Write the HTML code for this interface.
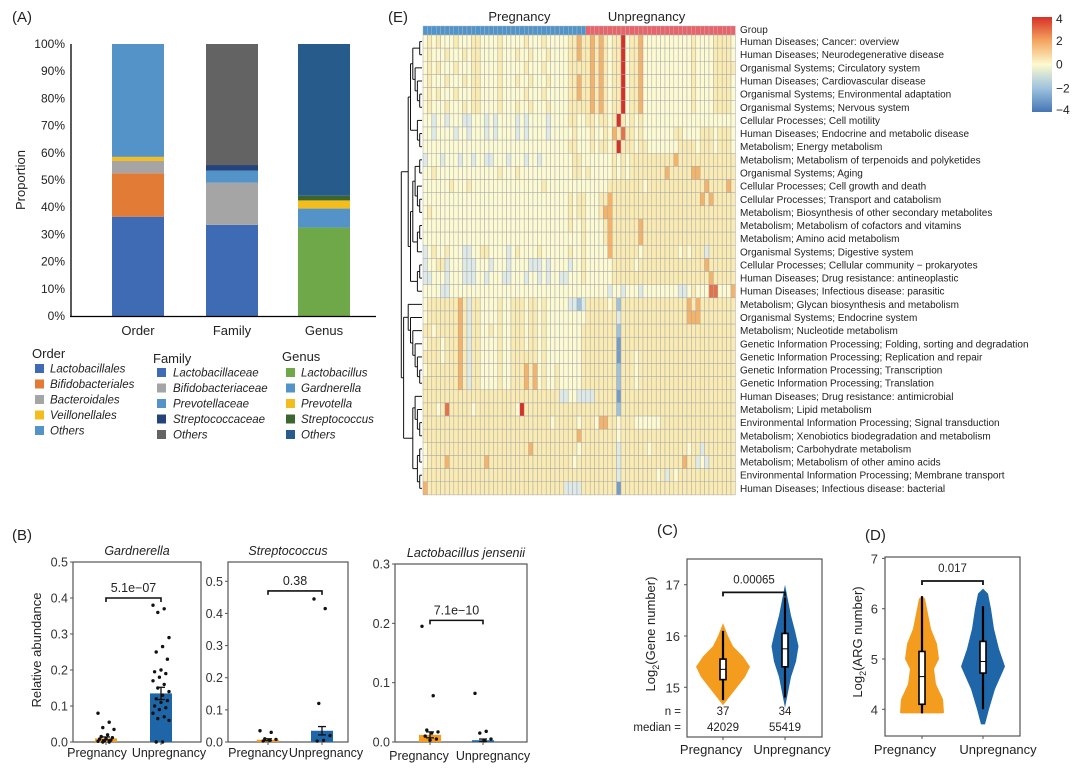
<!DOCTYPE html>
<html><head><meta charset="utf-8"><style>
html,body{margin:0;padding:0;background:#fff;}
svg{display:block;font-family:"Liberation Sans",Arial,sans-serif;}
</style></head><body>
<svg id="fig" width="1080" height="776" viewBox="0 0 1080 776" xmlns="http://www.w3.org/2000/svg">
<g id="pA"></g>
<g id="pE"></g>
<g id="pB"></g>
<g id="pCD"></g>
</svg>
<script>
// ---------- Panel A data ----------
const aCategories = ["Order","Family","Genus"];
const aOrderNames = ["Lactobacillales","Bifidobacteriales","Bacteroidales","Veillonellales","Others"];
const aOrderValues = [36.5,16,4.5,1.5,41.5];
const aFamilyNames = ["Lactobacillaceae","Bifidobacteriaceae","Prevotellaceae","Streptococcaceae","Others"];
const aFamilyValues = [33.5,15.5,4.5,2,44.5];
const aGenusNames = ["Lactobacillus","Gardnerella","Prevotella","Streptococcus","Others"];
const aGenusValues = [32.5,7,3,1.7,55.8];
const aTicks = [0,10,20,30,40,50,60,70,80,90,100];
const aOrderColors = ["#3e6bb4","#e27b35","#a5a5a5","#f3bd1e","#5493c7"];
const aFamilyColors = ["#3e6bb4","#a5a5a5","#5493c7","#24437a","#636363"];
const aGenusColors = ["#6fa848","#5493c7","#f3bd1e","#3c6630","#275b8c"];

// ---------- Panel E data ----------
const eRowLabels = ["Human Diseases; Cancer: overview","Human Diseases; Neurodegenerative disease","Organismal Systems; Circulatory system","Human Diseases; Cardiovascular disease","Organismal Systems; Environmental adaptation","Organismal Systems; Nervous system","Cellular Processes; Cell motility","Human Diseases; Endocrine and metabolic disease","Metabolism; Energy metabolism","Metabolism; Metabolism of terpenoids and polyketides","Organismal Systems; Aging","Cellular Processes; Cell growth and death","Cellular Processes; Transport and catabolism","Metabolism; Biosynthesis of other secondary metabolites","Metabolism; Metabolism of cofactors and vitamins","Metabolism; Amino acid metabolism","Organismal Systems; Digestive system","Cellular Processes; Cellular community \u2212 prokaryotes","Human Diseases; Drug resistance: antineoplastic","Human Diseases; Infectious disease: parasitic","Metabolism; Glycan biosynthesis and metabolism","Organismal Systems; Endocrine system","Metabolism; Nucleotide metabolism","Genetic Information Processing; Folding, sorting and degradation","Genetic Information Processing; Replication and repair","Genetic Information Processing; Transcription","Genetic Information Processing; Translation","Human Diseases; Drug resistance: antimicrobial","Metabolism; Lipid metabolism","Environmental Information Processing; Signal transduction","Metabolism; Xenobiotics biodegradation and metabolism","Metabolism; Carbohydrate metabolism","Metabolism; Metabolism of other amino acids","Environmental Information Processing; Membrane transport","Human Diseases; Infectious disease: bacterial"];
const eGroupSizes = [37,34];
const eGroupNames = ["Pregnancy","Unpregnancy"];
// digit d encodes value d-4 (range -4..4); '|' separates Pregnancy | Unpregnancy
const eMatrix = [
"4545444544455444454444454445444445565|5656545584556444444444445444455554",
"4544454445455444454445445444544445565|5656545584556444444444445444455554",
"4545444544455444454444454445444445555|5656545584556444444444445444455555",
"4544454445455444454445445444544445565|5656545584556444444444445444455554",
"4545444544455444454444454445444445565|5656545584556444444444445444455554",
"4544454445455444454445445444544445555|5656545584556444444444445444455554",
"4434434443344434344443434444344445544|5545545854545444444444444444444444",
"4434444344344434344443434444344444544|4544546575545444444455444455545554",
"4444444444444444444444444444444445544|4545545855545544444445555455545554",
"3444344434434433444344434434444444554|4444445454555555555565555555555555",
"4454444444444444454445444444444444554|5444445454555555556555556655555555",
"4444445444544444444444444445444444444|4444455555555455555555555556555565",
"4444444444444444444444444444444445455|4445565555555555555555555565655555",
"4544444444444444444444444444444445455|4445665555555555555555555555555555",
"4444444444444444444444444444444445445|4444565555556555555555555555555555",
"4444444444444444444444444444444444445|4444565555556555555555555555555555",
"3454454443344554444345444454444445445|4444465555554555555554545553555555",
"3445534443334443444344443334344443445|4444445555545555555555555556555555",
"3344434443334434443344434434344334445|4444445555555555555555555555655555",
"4444334444444444444444444444444444444|4444434434443444444443345444774446",
"4555555565355444454455545545444443323|5555545255555555555555565655555555",
"4555555565355444454455545545444444444|5555555355555555555555566655555555",
"5545555565355445454455545545444444445|5555555255555555555555555555555555",
"4555455565355444454455545545444444445|5555555155555555555555555555555555",
"5555455565355444454455555545444444445|5555555155545555555555555555555555",
"4555555565355444454455565645445444445|5555555255545555555555555555555555",
"5555555565355444454455565645445444445|5555555255545555555555555555555555",
"5555555555555555555555555555555334433|3355555155555555555555555555555555",
"5554575555545555555554855555555555555|5555555255555555555555555555555555",
"5555555555555555555555555555545555545|5546655455544444455555555555555555",
"5555555555555555555555555555555555565|5555555455555555555555555555555555",
"4555555555555555555555556555555555545|5555555355555545555555545535555555",
"4555565555555565555555555555555555455|5555555355555555555555655343555555",
"5555555555555555555555555555555555555|5555555355555555453545555555555555",
"6555555555555555555555555555555533335|5555555155555555555555555555555555"
];
const eScaleTicks = [4,2,0,-2,-4];

// ---------- Panel B data ----------
const bTitles = ["Gardnerella","Streptococcus","Lactobacillus jensenii"];
const bGroups = ["Pregnancy","Unpregnancy"];
const bMeans = [[0.010,0.135],[0.007,0.035],[0.012,0.003]];
const bErrors = [[0.004,0.017],[0.003,0.013],[0.005,0.002]];
const bPvalues = ["5.1e\u221207","0.38","7.1e\u221210"];
const bBracketY = [0.40,0.47,0.205];
const bYMax = [0.5,0.56,0.3];
const bTicks = [[0,0.1,0.2,0.3,0.4,0.5],[0,0.1,0.2,0.3,0.4,0.5],[0,0.1,0.2,0.3]];
const bGardPreg = [0.08,0.055,0.04,0.035,0.02,0.015,0.012,0.01,0.008,0.005,0.003,0.002,0,0];
const bGardUnpreg = [0.38,0.37,0.36,0.29,0.265,0.25,0.23,0.2,0.195,0.19,0.18,0.17,0.16,0.15,0.14,0.13,0.12,0.115,0.11,0.1,0.095,0.09,0.08,0.07,0.065,0.06,0,0];
const bStrepPreg = [0.035,0.03,0.01,0.008,0.005,0.003];
const bStrepUnpreg = [0.445,0.415,0.12,0.02,0.005,0.003];
const bLjPreg = [0.195,0.078,0.02,0.017,0.015,0.01,0.005,0.003];
const bLjUnpreg = [0.082,0.018,0.015,0.005,0.002];

// ---------- Panel C/D data ----------
const cYs = [14.65,14.8,15.0,15.2,15.4,15.6,15.8,16.0,16.25];
const cPregWidth = [0,6,14,22,27,20,10,5,0];
const cUnYs = [14.6,14.9,15.2,15.5,15.8,16.1,16.4,16.7,17.0];
const cUnWidth = [0,3,6,11,13.5,10,6,3,0];
const cPregBox = [14.75,15.15,15.35,15.55,16.1];
const cUnBox = [14.8,15.4,15.75,16.05,16.75];
const cTicks = [15,16,17];
const cN = ["37","34"];
const cMedian = ["42029","55419"];
const cP = "0.00065";
const dPregYs = [3.92,3.93,4.2,4.5,4.8,5.0,5.3,5.6,6.0,6.2,6.25];
const dPregWidth = [20,22,21,14,12,17,15,9,5,3,0];
const dUnYs = [3.7,4.0,4.4,4.85,5.2,5.6,6.0,6.3,6.4];
const dUnWidth = [2,6,12,22,16,11,8,5,0];
const dPregBox = [3.92,4.1,4.65,5.15,6.25];
const dUnBox = [4.0,4.72,4.95,5.35,6.05];
const dTicks = [4,5,6,7];
const dP = "0.017";

const NS="http://www.w3.org/2000/svg";
function mk(parent,tag,attrs,text){const e=document.createElementNS(NS,tag);for(const k in attrs)e.setAttribute(k,attrs[k]);if(text!==undefined)e.textContent=text;parent.appendChild(e);return e;}

// ===== Panel A =====
(function(){
const g=document.getElementById('pA');
const y0=316,y1=44;const ay=v=>y0-(v/100)*(y0-y1);
const t=mk(g,'text',{x:12,y:22,'font-size':15,fill:'#222'},'(A)');

const yl=mk(g,'text',{x:0,y:0,'font-size':13,fill:'#222','text-anchor':'middle',transform:'translate(25,180) rotate(-90)'},'Proportion');

aTicks.forEach(v=>{const e=mk(g,'text',{x:65,y:ay(v)+4,'font-size':12,fill:'#222','text-anchor':'end'},v+'%');
});
const series=[[aOrderValues,aOrderColors,aOrderNames],[aFamilyValues,aFamilyColors,aFamilyNames],[aGenusValues,aGenusColors,aGenusNames]];
const centers=[138,232,324];
series.forEach((s,ci)=>{let acc=0;s[0].forEach((v,i)=>{const r=mk(g,'rect',{x:centers[ci]-26,y:ay(acc+v),width:52,height:ay(acc)-ay(acc+v),fill:s[1][i]});
acc+=v;});
const xl=mk(g,'text',{x:centers[ci],y:335,'font-size':13,fill:'#222','text-anchor':'middle'},aCategories[ci]);
});
mk(g,'line',{x1:71,y1:44,x2:71,y2:317,stroke:'#000','stroke-width':1.3});
mk(g,'line',{x1:70,y1:316.5,x2:376,y2:316.5,stroke:'#000','stroke-width':1.3});
const legs=[[32,353,368,35,50,aOrderNames,aOrderColors,'Order'],[153,358,372,157,173,aFamilyNames,aFamilyColors,'Family'],[282,356,372,286,301,aGenusNames,aGenusColors,'Genus']];
legs.forEach(L=>{const tt=mk(g,'text',{x:L[0],y:L[1]+5,'font-size':13,fill:'#222'},L[7]);

L[5].forEach((n,i)=>{const yy=L[2]+i*15.5;const sw=mk(g,'rect',{x:L[3],y:yy-4,width:9,height:9,fill:L[6][i]});

const lt=mk(g,'text',{x:L[4],y:yy+4.5,'font-size':11.5,'font-style':'italic',fill:'#222'},n);
});});
})();

// ===== Panel E =====
(function(){
const g=document.getElementById('pE');
const x0=423,cw=4.4,y0=35,rh=13.14;const N=eGroupSizes[0]+eGroupSizes[1];
const lab=mk(g,'text',{x:388,y:22,'font-size':15,fill:'#222'},'(E)');

const stops=[[-4,[69,117,180]],[-2,[158,194,222]],[-1,[222,234,232]],[0,[252,250,210]],[1,[250,235,178]],[2,[245,178,105]],[4,[214,48,39]]];
function col(v){for(let i=0;i<stops.length-1;i++){const a=stops[i],b=stops[i+1];if(v<=b[0]){const t=(v-a[0])/(b[0]-a[0]);return 'rgb('+a[1].map((c,k)=>Math.round(c+(b[1][k]-c)*t)).join(',')+')';}}return 'rgb(214,48,39)';}
for(let j=0;j<N;j++){const r=mk(g,'rect',{x:x0+j*cw,y:26,width:cw,height:9,fill:j<eGroupSizes[0]?'#4f95cc':'#e8636a',stroke:'#bbb','stroke-width':0.4});
}
eGroupNames.forEach((n,i)=>{const cx=i==0?x0+eGroupSizes[0]*cw/2+15:x0+eGroupSizes[0]*cw+eGroupSizes[1]*cw/2-14;
const t=mk(g,'text',{x:cx,y:21,'font-size':13,fill:'#222','text-anchor':'middle'},n);
});
const gl=mk(g,'text',{x:740,y:33,'font-size':10,fill:'#222'},'Group');

eMatrix.forEach((row,i)=>{const parts=row.split('|');const p=(parts[0]+'4'.repeat(40)).slice(0,eGroupSizes[0]);const u=(parts[1]+'5'.repeat(40)).slice(0,eGroupSizes[1]);const s=p+u;
for(let j=0;j<N;j++){const v=parseInt(s[j])-4;const r=mk(g,'rect',{x:x0+j*cw,y:y0+i*rh,width:cw,height:rh,fill:col(v),stroke:'#a8a8a8','stroke-width':0.5});
}
const t=mk(g,'text',{x:740,y:y0+i*rh+rh/2+3.5,'font-size':10,fill:'#222'},eRowLabels[i]);
});
const tree=[[[[[0,1],[2,[3,[4,5]]]],[6,[7,8]]],[[[[9,10],[11,[12,13]]],[[14,15],16]],[[17,18],19]]],[[[20,[21,[22,[23,[24,[25,26]]]]]]],[[27,[28,[29,30]]],[[31,32],[33,34]]]]];
const dg=mk(g,'g',{stroke:'#111','stroke-width':1,fill:'none'});

function depth(n){return Array.isArray(n)?1+Math.max(...n.map(depth)):0;}
function draw(n){if(!Array.isArray(n))return{y:y0+n*rh+rh/2,x:422};
const ch=n.map(draw);const d=depth(n);const x=422-d*2.3;
ch.forEach(c=>mk(dg,'line',{x1:x,y1:c.y,x2:c.x,y2:c.y}));
mk(dg,'line',{x1:x,y1:ch[0].y,x2:x,y2:ch[ch.length-1].y});
return{y:(ch[0].y+ch[ch.length-1].y)/2,x:x};}
draw(tree);
const cb=mk(g,'defs',{});const lg=mk(cb,'linearGradient',{id:'cbg',x1:0,y1:0,x2:0,y2:1});
[[0,'rgb(214,48,39)'],[0.25,'rgb(244,165,96)'],[0.5,'rgb(252,250,206)'],[0.75,'rgb(158,194,222)'],[1,'rgb(69,117,180)']].forEach(s=>mk(lg,'stop',{offset:s[0],'stop-color':s[1]}));
const bar=mk(g,'rect',{x:1032,y:17,width:20,height:95,fill:'url(#cbg)'});

eScaleTicks.forEach(v=>{const yy=17+(4-v)/8*95;const t=mk(g,'text',{x:1056,y:yy+4+(v==4?2:0)-(v==-4?2:0),'font-size':12,fill:'#222'},v<0?'\u2212'+(-v):String(v));
});
})();

// ===== Panel B =====
(function(){
const g=document.getElementById('pB');
const lab=mk(g,'text',{x:12,y:540,'font-size':15,fill:'#222'},'(B)');

const yl=mk(g,'text',{x:0,y:0,'font-size':13,fill:'#222','text-anchor':'middle',transform:'translate(41,650) rotate(-90)'},'Relative abundance');

const panels=[{l:73,r:201,t:562,b:742,ax:562,cx:[106,161],lx:[97,169],ly:757},{l:228,r:348,t:562,b:742,ax:562,cx:[268,322],lx:[258,326],ly:757},{l:395,r:527,t:564,b:742,ax:564,cx:[430,483],lx:[419,493],ly:760}];
const ptsAll=[[bGardPreg,bGardUnpreg],[bStrepPreg,bStrepUnpreg],[bLjPreg,bLjUnpreg]];
const cols=['#f39c1e','#1f66a8'];
panels.forEach((P,k)=>{const sy=v=>P.b-(v/bYMax[k])*(P.b-P.ax);
const fr=mk(g,'rect',{x:P.l,y:P.t,width:P.r-P.l,height:P.b-P.t,fill:'none',stroke:'#555','stroke-width':1.2});

const tt=mk(g,'text',{x:(P.l+P.r)/2+(k==2?5:0),y:P.t-7,'font-size':12.5,'font-style':'italic',fill:'#222','text-anchor':'middle'},bTitles[k]);

bTicks[k].forEach(v=>{const yy=sy(v);mk(g,'line',{x1:P.l-3,y1:yy,x2:P.l,y2:yy,stroke:'#555'});
const t=mk(g,'text',{x:P.l-5,y:yy+4.5,'font-size':12.5,fill:'#333','text-anchor':'end'},v.toFixed(1));
});
bGroups.forEach((gn,i)=>{const cx=P.cx[i];
const br=mk(g,'rect',{x:cx-11,y:sy(bMeans[k][i]),width:22,height:P.b-sy(bMeans[k][i]),fill:cols[i]});

const e1=sy(bMeans[k][i]+bErrors[k][i]),e0=sy(Math.max(0,bMeans[k][i]-bErrors[k][i]));
mk(g,'line',{x1:cx,y1:e1,x2:cx,y2:e0,stroke:'#111','stroke-width':1.3});
mk(g,'line',{x1:cx-4,y1:e1,x2:cx+4,y2:e1,stroke:'#111','stroke-width':1.3});
mk(g,'line',{x1:cx-4,y1:e0,x2:cx+4,y2:e0,stroke:'#111','stroke-width':1.3});
ptsAll[k][i].forEach((v,j)=>{const jx=((j*7)%11-5)*1.6;const c=mk(g,'circle',{cx:cx+jx,cy:sy(v),r:1.7,fill:'#111'});
});
mk(g,'line',{x1:cx,y1:P.b,x2:cx,y2:P.b+3,stroke:'#555'});
const xl=mk(g,'text',{x:P.lx[i],y:P.ly,'font-size':12.5,fill:'#222','text-anchor':'middle'},gn);
});
const by=sy(bBracketY[k]);
const bk=mk(g,'path',{d:`M${P.cx[0]},${by+4}V${by}H${P.cx[1]}V${by+4}`,stroke:'#111','stroke-width':1.6,fill:'none'});

const pv=mk(g,'text',{x:(P.cx[0]+P.cx[1])/2,y:by-6,'font-size':12.5,fill:'#222','text-anchor':'middle'},bPvalues[k]);
});
})();

// ===== Panels C & D =====
(function(){
const g=document.getElementById('pCD');
const cols=['#f39c1e','#1f66a8'];
function violin(sy,cx,ys,ws,color,name){let d='';ys.forEach((y,i)=>{d+=(i?'L':'M')+(cx-ws[i])+','+sy(y);});
for(let i=ys.length-1;i>=0;i--)d+='L'+(cx+ws[i])+','+sy(ys[i]);d+='Z';
const p=mk(g,'path',{d:d,fill:color});}
function box(sy,cx,b){mk(g,'line',{x1:cx,y1:sy(b[0]),x2:cx,y2:sy(b[4]),stroke:'#000','stroke-width':2.2});
const r=mk(g,'rect',{x:cx-3,y:sy(b[3]),width:6,height:sy(b[1])-sy(b[3]),fill:'#fff',stroke:'#000','stroke-width':1.6});

mk(g,'line',{x1:cx-3,y1:sy(b[2]),x2:cx+3,y2:sy(b[2]),stroke:'#000','stroke-width':1});}
// C
const lc=mk(g,'text',{x:657,y:535,'font-size':15,fill:'#222'},'(C)');

const syC=v=>636-(v-16)*51.3;const cx=[723,785];const clx=[711,792];
const fc=mk(g,'rect',{x:687,y:559,width:135,height:178,fill:'none',stroke:'#555','stroke-width':1.2});

cTicks.forEach(v=>{mk(g,'line',{x1:684,y1:syC(v),x2:687,y2:syC(v),stroke:'#555'});
const t=mk(g,'text',{x:680,y:syC(v)+5,'font-size':13,fill:'#333','text-anchor':'end'},String(v));
});
const ylc=mk(g,'text',{x:0,y:0,'font-size':13,fill:'#222','text-anchor':'middle',transform:'translate(655,634) rotate(-90)'});
ylc.innerHTML='Log<tspan font-size="9" dy="4">2</tspan><tspan dy="-4">(Gene  number)</tspan>';

violin(syC,cx[0],cYs,cPregWidth,cols[0],'violin-pregnancy');
violin(syC,cx[1],cUnYs,cUnWidth,cols[1],'violin-unpregnancy');
box(syC,cx[0],cPregBox);box(syC,cx[1],cUnBox);
const byc=syC(16.85);
const bkc=mk(g,'path',{d:`M${cx[0]},${byc+4}V${byc}H${cx[1]}V${byc+4}`,stroke:'#111','stroke-width':1.8,fill:'none'});

const pc=mk(g,'text',{x:(cx[0]+cx[1])/2,y:byc-9,'font-size':11.5,fill:'#222','text-anchor':'middle'},cP);

const n1=mk(g,'text',{x:681,y:715,'font-size':11.5,fill:'#222','text-anchor':'end'},'n =');
const m1=mk(g,'text',{x:681,y:731,'font-size':11.5,fill:'#222','text-anchor':'end'},'median =');
[0,1].forEach(i=>{const a=mk(g,'text',{x:cx[i],y:715,'font-size':11.5,fill:'#222','text-anchor':'middle'},cN[i]);
const b=mk(g,'text',{x:cx[i],y:731,'font-size':11.5,fill:'#222','text-anchor':'middle'},cMedian[i]);
mk(g,'line',{x1:cx[i],y1:737,x2:cx[i],y2:740,stroke:'#555'});
const x=mk(g,'text',{x:clx[i],y:754,'font-size':13,fill:'#222','text-anchor':'middle'},bGroups[i]);});
// D
const ld=mk(g,'text',{x:865,y:540,'font-size':15,fill:'#222'},'(D)');

const syD=v=>659-(v-5)*50.3;const dx=[922,983];const dlx=[905,998];
const fd=mk(g,'rect',{x:885,y:557,width:135,height:179,fill:'none',stroke:'#555','stroke-width':1.2});

dTicks.forEach(v=>{mk(g,'line',{x1:882,y1:syD(v),x2:885,y2:syD(v),stroke:'#555'});
const t=mk(g,'text',{x:878,y:syD(v)+5,'font-size':13,fill:'#333','text-anchor':'end'},String(v));
});
const yld=mk(g,'text',{x:0,y:0,'font-size':13,fill:'#222','text-anchor':'middle',transform:'translate(862,642) rotate(-90)'});
yld.innerHTML='Log<tspan font-size="9" dy="4">2</tspan><tspan dy="-4">(ARG number)</tspan>';

violin(syD,dx[0],dPregYs,dPregWidth,cols[0],'violin-pregnancy');
violin(syD,dx[1],dUnYs,dUnWidth,cols[1],'violin-unpregnancy');
box(syD,dx[0],dPregBox);box(syD,dx[1],dUnBox);
const byd=syD(6.55);
const bkd=mk(g,'path',{d:`M${dx[0]},${byd+4}V${byd}H${dx[1]}V${byd+4}`,stroke:'#111','stroke-width':1.8,fill:'none'});

const pd=mk(g,'text',{x:(dx[0]+dx[1])/2,y:byd-9,'font-size':11.5,fill:'#222','text-anchor':'middle'},dP);

[0,1].forEach(i=>{mk(g,'line',{x1:dx[i],y1:736,x2:dx[i],y2:739,stroke:'#555'});
const x=mk(g,'text',{x:dlx[i],y:754,'font-size':13,fill:'#222','text-anchor':'middle'},bGroups[i]);});
})();
</script>
</body></html>
